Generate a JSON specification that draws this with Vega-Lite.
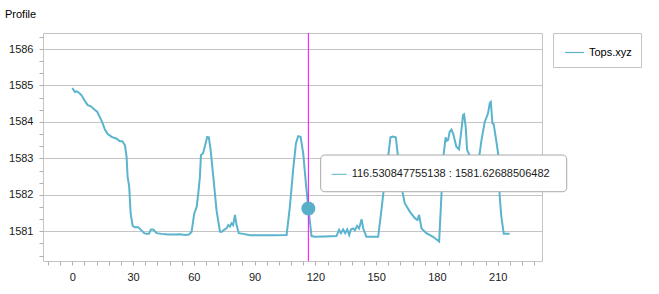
{
  "$schema": "https://vega.github.io/schema/vega-lite/v6.json",
  "width": 499,
  "height": 228,
  "autosize": {"type": "none"},
  "padding": {"left": 43, "top": 33, "right": 117, "bottom": 33},
  "background": "white",
  "title": {"text": "Profile", "anchor": "start", "frame": "group", "offset": 2, "dx": -38, "fontSize": 11, "fontWeight": "normal", "font": "Liberation Sans", "color": "#000000", "baseline": "alphabetic"},
  "datasets": {
    "profile": [
      {"x": 0, "y": 1584.93}, {"x": 1.3, "y": 1584.82}, {"x": 2.2, "y": 1584.84}, {"x": 3.3, "y": 1584.8},
      {"x": 4.6, "y": 1584.73}, {"x": 5.9, "y": 1584.6}, {"x": 7.6, "y": 1584.46}, {"x": 9.2, "y": 1584.43},
      {"x": 10.9, "y": 1584.34}, {"x": 12.3, "y": 1584.28}, {"x": 13.7, "y": 1584.12}, {"x": 15.0, "y": 1583.96},
      {"x": 16.1, "y": 1583.79}, {"x": 17.5, "y": 1583.67}, {"x": 19.4, "y": 1583.59}, {"x": 21.9, "y": 1583.54},
      {"x": 23.5, "y": 1583.47}, {"x": 24.7, "y": 1583.47}, {"x": 26.0, "y": 1583.36}, {"x": 26.8, "y": 1583.04},
      {"x": 27.3, "y": 1582.5}, {"x": 28.1, "y": 1582.22}, {"x": 28.8, "y": 1581.49}, {"x": 29.8, "y": 1581.15},
      {"x": 30.9, "y": 1581.11}, {"x": 32.6, "y": 1581.11}, {"x": 33.9, "y": 1581.04}, {"x": 35.5, "y": 1580.95},
      {"x": 36.7, "y": 1580.93}, {"x": 37.8, "y": 1580.93}, {"x": 38.8, "y": 1581.05}, {"x": 40.0, "y": 1581.05},
      {"x": 41.6, "y": 1580.95}, {"x": 44.1, "y": 1580.93}, {"x": 47.4, "y": 1580.91}, {"x": 50.7, "y": 1580.91},
      {"x": 53.1, "y": 1580.92}, {"x": 55.6, "y": 1580.9}, {"x": 57.6, "y": 1580.91}, {"x": 58.9, "y": 1580.99},
      {"x": 60.2, "y": 1581.49}, {"x": 61.4, "y": 1581.67}, {"x": 62.2, "y": 1582.04}, {"x": 63.0, "y": 1582.5},
      {"x": 63.5, "y": 1583.09}, {"x": 64.6, "y": 1583.15}, {"x": 65.8, "y": 1583.41}, {"x": 66.6, "y": 1583.59},
      {"x": 67.4, "y": 1583.58}, {"x": 68.3, "y": 1583.23}, {"x": 69.6, "y": 1582.5}, {"x": 71.2, "y": 1581.58},
      {"x": 72.9, "y": 1580.99}, {"x": 73.9, "y": 1580.99}, {"x": 74.9, "y": 1581.04}, {"x": 76.1, "y": 1581.08},
      {"x": 77.0, "y": 1581.17}, {"x": 77.8, "y": 1581.13}, {"x": 78.6, "y": 1581.22}, {"x": 79.4, "y": 1581.17},
      {"x": 80.3, "y": 1581.45}, {"x": 81.1, "y": 1581.17}, {"x": 82.2, "y": 1580.95}, {"x": 84.4, "y": 1580.93},
      {"x": 87.7, "y": 1580.89}, {"x": 93.4, "y": 1580.89}, {"x": 100.0, "y": 1580.89}, {"x": 105.8, "y": 1580.9},
      {"x": 107.4, "y": 1581.67}, {"x": 109.0, "y": 1582.68}, {"x": 110.4, "y": 1583.41}, {"x": 111.5, "y": 1583.61},
      {"x": 112.7, "y": 1583.59}, {"x": 114.0, "y": 1583.14}, {"x": 115.3, "y": 1582.32}, {"x": 116.530847755138, "y": 1581.62688506482},
      {"x": 118.1, "y": 1580.87}, {"x": 119.7, "y": 1580.85}, {"x": 124.7, "y": 1580.86}, {"x": 130.4, "y": 1580.87},
      {"x": 131.7, "y": 1581.04}, {"x": 132.6, "y": 1580.95}, {"x": 133.7, "y": 1581.05}, {"x": 134.7, "y": 1580.95},
      {"x": 135.7, "y": 1581.05}, {"x": 136.7, "y": 1580.9}, {"x": 137.5, "y": 1581.05}, {"x": 138.6, "y": 1581.08},
      {"x": 139.5, "y": 1581.03}, {"x": 140.6, "y": 1581.15}, {"x": 141.6, "y": 1581.08}, {"x": 142.8, "y": 1581.33},
      {"x": 143.6, "y": 1581.08}, {"x": 145.2, "y": 1580.85}, {"x": 151.0, "y": 1580.85}, {"x": 152.6, "y": 1581.58},
      {"x": 154.3, "y": 1582.41}, {"x": 155.9, "y": 1583.04}, {"x": 157.1, "y": 1583.58}, {"x": 158.1, "y": 1583.6},
      {"x": 159.7, "y": 1583.58}, {"x": 160.8, "y": 1583.04}, {"x": 162.5, "y": 1582.22}, {"x": 164.1, "y": 1581.77},
      {"x": 166.6, "y": 1581.54}, {"x": 169.1, "y": 1581.36}, {"x": 170.4, "y": 1581.31}, {"x": 171.2, "y": 1581.45},
      {"x": 172.4, "y": 1581.08}, {"x": 174.8, "y": 1580.95}, {"x": 178.1, "y": 1580.85}, {"x": 181.1, "y": 1580.72},
      {"x": 182.3, "y": 1582.08}, {"x": 183.3, "y": 1583.1}, {"x": 184.3, "y": 1583.58}, {"x": 184.8, "y": 1583.48},
      {"x": 185.5, "y": 1583.5}, {"x": 186.3, "y": 1583.73}, {"x": 187.2, "y": 1583.79}, {"x": 188.0, "y": 1583.68},
      {"x": 189.6, "y": 1583.32}, {"x": 190.9, "y": 1583.25}, {"x": 192.1, "y": 1583.78}, {"x": 192.9, "y": 1584.19},
      {"x": 193.4, "y": 1584.21}, {"x": 194.2, "y": 1583.87}, {"x": 194.9, "y": 1583.23}, {"x": 195.7, "y": 1583.14},
      {"x": 198.4, "y": 1582.35}, {"x": 201.1, "y": 1583.14}, {"x": 202.0, "y": 1583.5}, {"x": 203.6, "y": 1584.0},
      {"x": 205.2, "y": 1584.23}, {"x": 206.1, "y": 1584.52}, {"x": 206.6, "y": 1584.55}, {"x": 207.4, "y": 1583.96},
      {"x": 208.0, "y": 1583.94}, {"x": 209.0, "y": 1583.59}, {"x": 210.2, "y": 1583.14}, {"x": 211.0, "y": 1581.95},
      {"x": 211.8, "y": 1581.4}, {"x": 213.0, "y": 1580.93}, {"x": 215.9, "y": 1580.93}
    ],
    "cursor": [
      {"x": 116.530847755138, "y": 1581.62688506482, "label": "116.530847755138 : 1581.62688506482"}
    ]
  },
  "layer": [
    {
      "data": {"name": "profile"},
      "mark": {"type": "line", "strokeWidth": 2, "interpolate": "linear"},
      "encoding": {
        "x": {
          "field": "x", "type": "quantitative",
          "scale": {"domain": [-14.46, 231.87], "nice": false, "zero": false},
          "axis": {
            "title": null,
            "tickCount": 200,
            "values": [-12, -6, 0, 6, 12, 18, 24, 30, 36, 42, 48, 54, 60, 66, 72, 78, 84, 90, 96, 102, 108, 114, 120, 126, 132, 138, 144, 150, 156, 162, 168, 174, 180, 186, 192, 198, 204, 210, 216, 222, 228],
            "labelExpr": "datum.value % 30 === 0 ? datum.label : ''",
            "grid": false
          }
        },
        "y": {
          "field": "y", "type": "quantitative",
          "scale": {"domain": [1580.186, 1586.439], "nice": false, "zero": false},
          "axis": {
            "title": null,
            "tickCount": 200,
            "values": [1580.3333333, 1580.6666667, 1581, 1581.3333333, 1581.6666667, 1582, 1582.3333333, 1582.6666667, 1583, 1583.3333333, 1583.6666667, 1584, 1584.3333333, 1584.6666667, 1585, 1585.3333333, 1585.6666667, 1586, 1586.3333333],
            "labelExpr": "abs(datum.value - round(datum.value)) < 0.01 ? format(datum.value, 'd') : ''",
            "grid": true,
            "gridOpacity": {"condition": {"test": "abs(datum.value - round(datum.value)) < 0.01", "value": 1}, "value": 0}
          }
        },
        "color": {
          "datum": "Tops.xyz",
          "scale": {"domain": ["Tops.xyz"], "range": ["#5bb4cd"]},
          "legend": {"title": null}
        }
      }
    },
    {
      "data": {"name": "cursor"},
      "mark": {"type": "rule", "color": "#ff00ff", "strokeWidth": 1},
      "encoding": {"x": {"field": "x", "type": "quantitative"}}
    },
    {
      "data": {"name": "cursor"},
      "mark": {"type": "point", "filled": true, "size": 195, "color": "#5aafc8", "opacity": 1},
      "encoding": {
        "x": {"field": "x", "type": "quantitative"},
        "y": {"field": "y", "type": "quantitative"}
      }
    },
    {
      "data": {"name": "cursor"},
      "mark": {"type": "rect", "fill": "white", "stroke": "#a8a8a8", "strokeWidth": 1, "cornerRadius": 4, "clip": false},
      "encoding": {
        "x": {"datum": 122.62},
        "x2": {"datum": 244.07},
        "y": {"datum": 1583.093},
        "y2": {"datum": 1582.086}
      }
    },
    {
      "data": {"name": "cursor"},
      "mark": {"type": "rule", "color": "#5bb4cd", "strokeWidth": 1},
      "encoding": {
        "x": {"datum": 128.05},
        "x2": {"datum": 135.46},
        "y": {"datum": 1582.563}
      }
    },
    {
      "data": {"name": "cursor"},
      "mark": {"type": "text", "align": "left", "baseline": "middle", "font": "Liberation Sans", "fontSize": 11, "color": "#1a1a1a"},
      "encoding": {
        "x": {"datum": 137.93},
        "y": {"datum": 1582.563},
        "text": {"field": "label"}
      }
    }
  ],
  "config": {
    "view": {"stroke": "#c4c4c4", "strokeWidth": 1},
    "axis": {
      "domain": false,
      "tickCount": 200,
      "tickColor": "#b0b0b0",
      "tickSize": 4,
      "labelFont": "Liberation Sans",
      "labelFontSize": 11,
      "labelColor": "#1a1a1a",
      "labelPadding": 6,
      "gridColor": "#c4c4c4",
      "labelOverlap": false
    },
    "legend": {
      "orient": "right",
      "offset": 11,
      "strokeColor": "#c4c4c4",
      "padding": 9,
      "symbolType": "stroke",
      "symbolSize": 361,
      "symbolStrokeWidth": 1.2,
      "symbolOffset": 2,
      "labelOffset": 4,
      "labelFont": "Liberation Sans",
      "labelFontSize": 11,
      "labelColor": "#000000"
    }
  }
}
